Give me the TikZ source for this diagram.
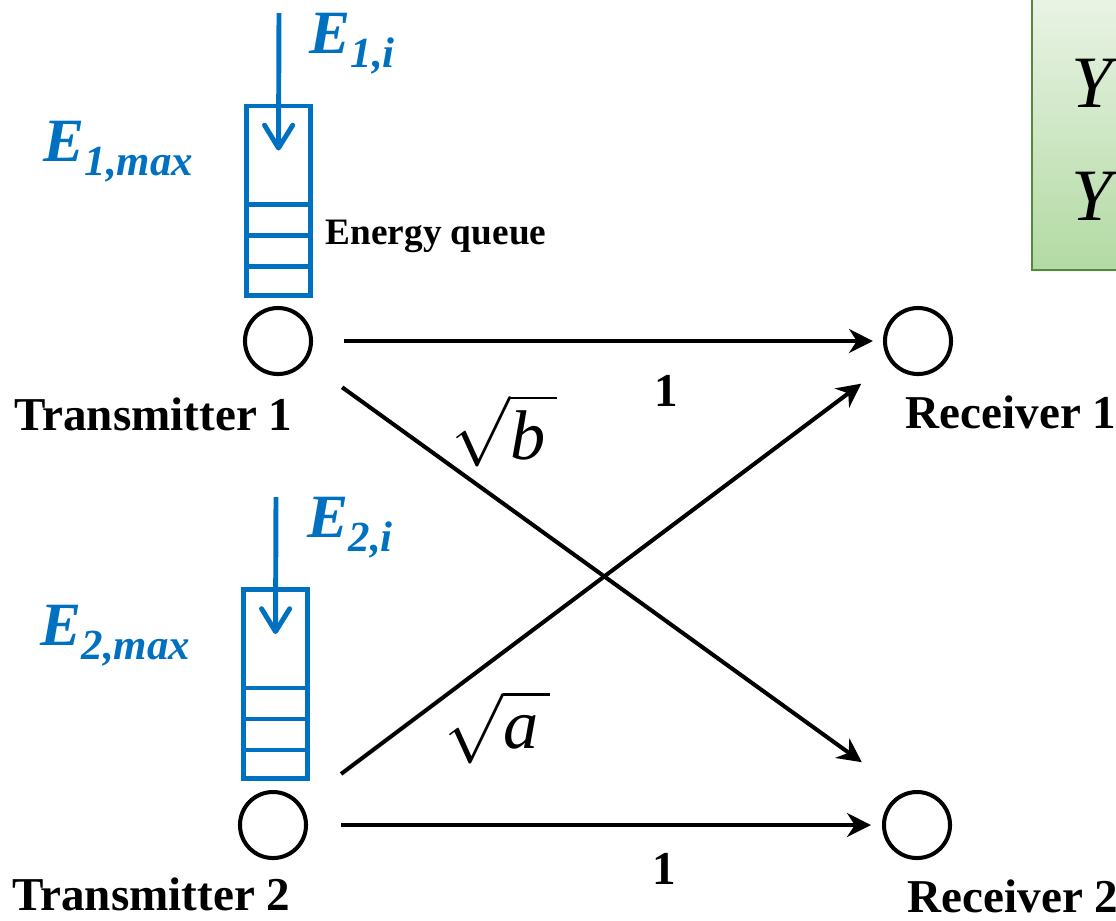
\RequirePackage{fix-cm}
\documentclass[tikz,border=0pt]{standalone}
\usepackage{amsmath}
\usepackage{fontspec}
\setmainfont{Liberation Serif}
\usepackage{xcolor}
\usetikzlibrary{arrows.meta, positioning, calc}

\definecolor{qblue}{HTML}{0070C0}
\definecolor{boxedge}{HTML}{4F8B3B}
\definecolor{boxtop}{HTML}{EBF4E7}
\definecolor{boxbot}{HTML}{B2DAA3}

\newcommand{\energy}[1]{{\fontsize{17.5}{20}\selectfont E}\raisebox{-4pt}{\fontsize{12.2}{14}\selectfont #1}}
\newcommand{\outsig}[1]{\textit{Y}\raisebox{-3.7pt}{\fontsize{14}{16}\selectfont #1}}

\begin{document}
\begin{tikzpicture}[x=0.01cm, y=-0.01cm, >={Stealth[length=6.8pt, width=6.8pt]}]
    \tikzstyle{user} = [draw, circle, line width=1.15pt, minimum size=0.66cm, inner sep=0pt]
    \tikzstyle{queue} = [draw=qblue, rectangle, line width=1.4pt, minimum width=0.64cm, minimum height=1.89cm, inner sep=0pt]
    \tikzstyle{link} = [->, line width=1.15pt]
    \tikzstyle{feed} = [-{Straight Barb[length=6.5pt, width=8pt, round]}, draw=qblue, line width=1.4pt]
    \tikzstyle{endlabel} = [font=\fontsize{13.4}{16}\selectfont\bfseries, inner sep=0pt]
    \tikzstyle{elabel} = [text=qblue, font=\bfseries\itshape, inner sep=0pt, anchor=base west]
    \tikzstyle{gain} = [font=\fontsize{20}{24}\selectfont, inner sep=0pt, anchor=base west]

    \useasboundingbox (0,0) rectangle (1116,920);
    \clip (0,0) rectangle (1116,920);

    % --- output box (cut at the edge) ---
    \node [draw=boxedge, line width=0.6pt, top color=boxtop, bottom color=boxbot, anchor=north west, minimum width=3cm, minimum height=2.8cm] (ybox) at (1031,-11) {};
    \node [gain, font=\fontsize{21}{24}\selectfont] (y1) at (1071,107) {\outsig{1}};
    \node [gain, font=\fontsize{21}{24}\selectfont] (y2) at (1071,220) {\outsig{2}};

    % --- users ---
    \node [user] (tx1) at (278,341) {};
    \node [user] (rx1) at (918,341) {};
    \node [user] (tx2) at (273,825) {};
    \node [user] (rx2) at (917,825) {};

    \node [endlabel, anchor=base east] (t1) at (293,430) {Transmitter 1};
    \node [endlabel, anchor=base east] (t2) at (291,910) {Transmitter 2};
    \node [endlabel, anchor=base west] (r1) at (905,428) {Receiver 1};
    \node [endlabel, anchor=base west] (r2) at (907,912) {Receiver 2};

    % --- energy queues ---
    \node [queue] (q1) at (278.5,200.5) {};
    \node [queue] (q2) at (275.5,684) {};
    \foreach \k in {1,2,3} {
        \draw [draw=qblue, line width=1.4pt] ([yshift=\k*0.31cm]q1.south west) -- ([yshift=\k*0.31cm]q1.south east);
        \draw [draw=qblue, line width=1.4pt] ([yshift=\k*0.31cm]q2.south west) -- ([yshift=\k*0.31cm]q2.south east);
    }
    \node [font=\fontsize{10.6}{13}\selectfont\bfseries, anchor=base west, inner sep=0pt] (eq) at (325,244) {Energy queue};

    \coordinate (in1) at (279,13);
    \coordinate (in2) at (276,497);
    \draw [feed] (in1) -- ([yshift=-0.47cm]q1.north);
    \draw [feed] (in2) -- ([yshift=-0.47cm]q2.north);

    \node [elabel] (e1i) at (309,53) {\energy{1,i}};
    \node [elabel] (e1m) at (43,161) {\energy{1,max}};
    \node [elabel] (e2i) at (307,537) {\energy{2,i}};
    \node [elabel] (e2m) at (40,645) {\energy{2,max}};

    % --- links ---
    \draw [link, shorten <=0.31cm, shorten >=0.1cm] (tx1) -- node[endlabel, pos=0.62, below=0.32cm] {1} (rx1);
    \draw [link, shorten <=0.33cm, shorten >=0.11cm] (tx2) -- node[endlabel, pos=0.62, below=0.26cm] {1} (rx2);
    \draw [link, shorten <=0.44cm, shorten >=0.68cm] (tx1) -- ([yshift=0.23cm]rx2.center);
    \draw [link, shorten <=0.5cm, shorten >=0.36cm] (tx2) -- (rx1);

    \node [gain] (gb) at (451,459) {$\sqrt{\textit{b}\,}$};
    \node [gain] (ga) at (444,748) {$\sqrt{\textit{a}\,}$};
\end{tikzpicture}
\end{document}
